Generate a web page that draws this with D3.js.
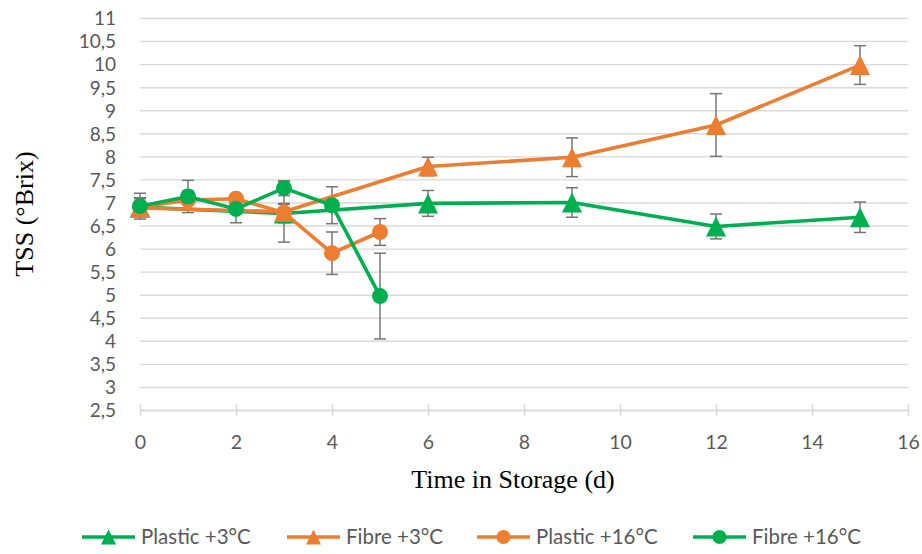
<!DOCTYPE html>
<html>
<head>
<meta charset="utf-8">
<script src="https://cdn.jsdelivr.net/npm/d3@7"></script>
<style>
  html, body { margin: 0; padding: 0; background: #fff; }
  svg { display: block; }
</style>
</head>
<body>
<svg id="chart" width="922" height="554"></svg>
<script>
// Total soluble solids over storage time, four packaging/temperature treatments
const yTicks = [2.5, 3, 3.5, 4, 4.5, 5, 5.5, 6, 6.5, 7, 7.5, 8, 8.5, 9, 9.5, 10, 10.5, 11];
const xTicks = [0, 2, 4, 6, 8, 10, 12, 14, 16];

const plastic3Days = [0, 3, 6, 9, 12, 15];
const plastic3Vals = [6.90, 6.76, 6.98, 7.00, 6.48, 6.68];
const plastic3Err  = [0.20, 0.20, 0.28, 0.32, 0.27, 0.33];

const fibre3Days = [0, 3, 6, 9, 12, 15];
const fibre3Vals = [6.88, 6.80, 7.78, 7.98, 8.68, 9.98];
const fibre3Err  = [0.20, 0.66, 0.20, 0.42, 0.68, 0.42];

const plastic16Days = [0, 1, 2, 3, 4, 5];
const plastic16Vals = [6.90, 7.05, 7.08, 6.78, 5.90, 6.36];
const plastic16Err  = [0.20, 0.20, 0.10, 0.20, 0.46, 0.29];

const fibre16Days = [0, 1, 2, 3, 4, 5];
const fibre16Vals = [6.92, 7.13, 6.86, 7.31, 6.94, 4.97];
const fibre16Err  = [0.28, 0.35, 0.30, 0.16, 0.40, 0.93];

const seriesNames = ["Plastic +3°C", "Fibre +3°C", "Plastic +16°C", "Fibre +16°C"];

const GREEN = "#00b050", ORANGE = "#ed7d31";
const series = [
  { name: seriesNames[0], days: plastic3Days, vals: plastic3Vals, err: plastic3Err, color: GREEN, shape: "tri" },
  { name: seriesNames[1], days: fibre3Days, vals: fibre3Vals, err: fibre3Err, color: ORANGE, shape: "tri" },
  { name: seriesNames[2], days: plastic16Days, vals: plastic16Vals, err: plastic16Err, color: ORANGE, shape: "circle" },
  { name: seriesNames[3], days: fibre16Days, vals: fibre16Vals, err: fibre16Err, color: GREEN, shape: "circle" }
];

const svg = d3.select("#chart");
const x = d3.scaleLinear().domain([0, 16]).range([140, 908]);
const y = d3.scaleLinear().domain([2.5, 11]).range([410, 18]);
const fmt = v => String(v).replace(".", ",");
const TICK_FONT = "Lato, 'Open Sans', sans-serif";

// horizontal gridlines
svg.append("g")
  .attr("transform", `translate(${x(0)},0)`)
  .call(d3.axisLeft(y).tickValues(yTicks).tickSize(-(x(16) - x(0))).tickFormat(""))
  .call(g => g.select(".domain").remove())
  .call(g => g.selectAll("line").attr("stroke", "#d9d9d9").attr("stroke-width", 1.4));

// y tick labels
svg.append("g")
  .attr("transform", `translate(${x(0)},0)`)
  .call(d3.axisLeft(y).tickValues(yTicks).tickSize(0).tickFormat(fmt))
  .call(g => g.select(".domain").remove())
  .call(g => g.selectAll("text")
    .attr("fill", "#595959")
    .attr("font-family", TICK_FONT)
    .attr("font-size", 19)
    .attr("x", -24)
    .attr("dy", "0.36em"));

// x axis line with crossing ticks
svg.append("g").attr("transform", `translate(0,${y(2.5)})`)
  .call(d3.axisBottom(x).tickValues(xTicks).tickSize(6).tickSizeOuter(0).tickFormat(fmt))
  .call(g => g.select(".domain").attr("stroke", "#d9d9d9").attr("stroke-width", 1.5))
  .call(g => g.selectAll(".tick line").attr("stroke", "#d9d9d9").attr("stroke-width", 1.5).attr("y1", -6))
  .call(g => g.selectAll("text")
    .attr("fill", "#595959")
    .attr("font-family", TICK_FONT)
    .attr("font-size", 19.5)
    .attr("y", 32)
    .attr("dy", "0.36em"));

// axis titles
svg.append("text")
  .attr("transform", `translate(33,${(y(11) + y(2.5)) / 2}) rotate(-90)`)
  .attr("text-anchor", "middle")
  .attr("font-family", "'Liberation Serif', 'Times New Roman', serif")
  .attr("font-size", 26)
  .attr("fill", "#000")
  .text("TSS (°Brix)");

svg.append("text")
  .attr("x", 513).attr("y", 488)
  .attr("text-anchor", "middle")
  .attr("font-family", "'Liberation Serif', 'Times New Roman', serif")
  .attr("font-size", 26)
  .attr("fill", "#000")
  .text("Time in Storage (d)");

const line = d3.line().x(d => x(d.t)).y(d => y(d.v));
const tri = h => `M0,${-h}L${h},${h}L${-h},${h}Z`;

series.forEach(s => {
  s.pts = s.days.map((t, i) => ({ t, v: s.vals[i], e: s.err[i] }));
});

// error bars
series.forEach(s => {
  const g = svg.append("g").attr("stroke", "#767676").attr("stroke-width", 1.5).attr("fill", "none");
  s.pts.forEach(p => {
    const cx = x(p.t), y1 = y(p.v + p.e), y2 = y(p.v - p.e);
    g.append("line").attr("x1", cx).attr("x2", cx).attr("y1", y1).attr("y2", y2);
    g.append("line").attr("x1", cx - 6).attr("x2", cx + 6).attr("y1", y1).attr("y2", y1);
    g.append("line").attr("x1", cx - 6).attr("x2", cx + 6).attr("y1", y2).attr("y2", y2);
  });
});

// lines and markers
series.forEach(s => {
  svg.append("path")
    .datum(s.pts)
    .attr("d", line)
    .attr("fill", "none")
    .attr("stroke", s.color)
    .attr("stroke-width", 3.6)
    .attr("stroke-linejoin", "round");
  const m = svg.append("g").attr("fill", s.color);
  s.pts.forEach(p => {
    if (s.shape === "tri") {
      m.append("path").attr("d", tri(10)).attr("transform", `translate(${x(p.t)},${y(p.v)})`);
    } else {
      m.append("circle").attr("cx", x(p.t)).attr("cy", y(p.v)).attr("r", 8);
    }
  });
});

// legend
const legendX = [82, 287, 477, 693];
const legendY = 537;
series.forEach((s, i) => {
  const g = svg.append("g").attr("transform", `translate(${legendX[i]},${legendY})`);
  g.append("line").attr("x1", 0).attr("x2", 53).attr("y1", 0).attr("y2", 0)
    .attr("stroke", s.color).attr("stroke-width", 3.6);
  if (s.shape === "tri") {
    g.append("path").attr("d", tri(7.5)).attr("transform", "translate(26.5,0)").attr("fill", s.color);
  } else {
    g.append("circle").attr("cx", 26.5).attr("cy", 0).attr("r", 7).attr("fill", s.color);
  }
  g.append("text").attr("x", 59).attr("y", 0).attr("dy", "0.36em")
    .attr("font-family", TICK_FONT)
    .attr("font-size", 20.5)
    .attr("fill", "#595959")
    .text(s.name);
});
</script>
</body>
</html>
